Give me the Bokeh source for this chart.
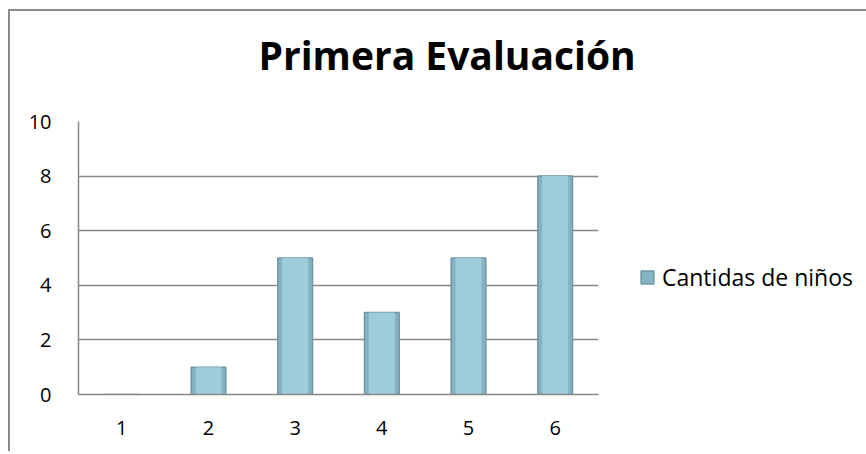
from bokeh.plotting import figure
from bokeh.models import FactorRange, Range1d, FixedTicker, Legend, LegendItem, Title
from bokeh.embed import file_html
from bokeh.resources import INLINE

categories = ["1", "2", "3", "4", "5", "6"]
values = [0, 1, 5, 3, 5, 8]
y_ticks = [0, 2, 4, 6, 8, 10]
title_text = "Primera Evaluación"
series_name = "Cantidas de niños"

FONT = "Open Sans"

p = figure(
    x_range=FactorRange(*categories, range_padding=0),
    y_range=Range1d(0, 10),
    width=850, height=440,
    output_backend="svg", toolbar_location=None,
    frame_width=520, frame_height=273,
    min_border_left=68, min_border_top=110, min_border_right=262, min_border_bottom=57,
)
p.styles = {"border-top": "2px solid #8a8a8a", "border-left": "2px solid #8a8a8a",
            "margin-left": "8px", "margin-top": "9px"}
p.outline_line_color = None
p.background_fill_color = "white"
p.border_fill_color = "white"

p.title.text = ""
spacer = Title(text=" ", text_font_size="10px", standoff=23)
p.add_layout(spacer, "above")
main_title = Title(text=title_text, text_font=FONT, text_font_style="bold",
                   text_font_size="39px", text_color="black",
                   align="left", offset=180, standoff=10)
p.add_layout(main_title, "above")

r = p.vbar(x=categories, top=values, width=0.4, bottom=0,
           fill_color="#86b3c3", line_color="#6e96a5", line_width=1.5)
p.vbar(x=categories, top=values, width=0.3, bottom=0,
       fill_color="#9dcddc", line_color=None)

p.xgrid.grid_line_color = None
p.ygrid.grid_line_color = "#888888"
p.ygrid.grid_line_width = 1.5
p.yaxis.ticker = FixedTicker(ticks=y_ticks)

for ax in (p.xaxis, p.yaxis):
    ax.axis_line_color = "#888888"
    ax.axis_line_width = 1.5
    ax.major_tick_line_color = None
    ax.minor_tick_line_color = None
    ax.major_label_text_font = FONT
    ax.major_label_text_font_size = "20px"
    ax.major_label_text_color = "black"
p.yaxis.major_label_standoff = 21
p.xaxis.major_label_standoff = 20

legend = Legend(items=[LegendItem(label=series_name, renderers=[r])],
                location=(41, 101), margin=0, padding=0,
                glyph_width=16, glyph_height=16, label_height=16, label_standoff=7,
                label_text_font=FONT, label_text_font_size="23px", label_text_color="black",
                border_line_alpha=0, background_fill_alpha=0)
p.add_layout(legend, "right")

open("out.html", "w").write(file_html(p, INLINE))
